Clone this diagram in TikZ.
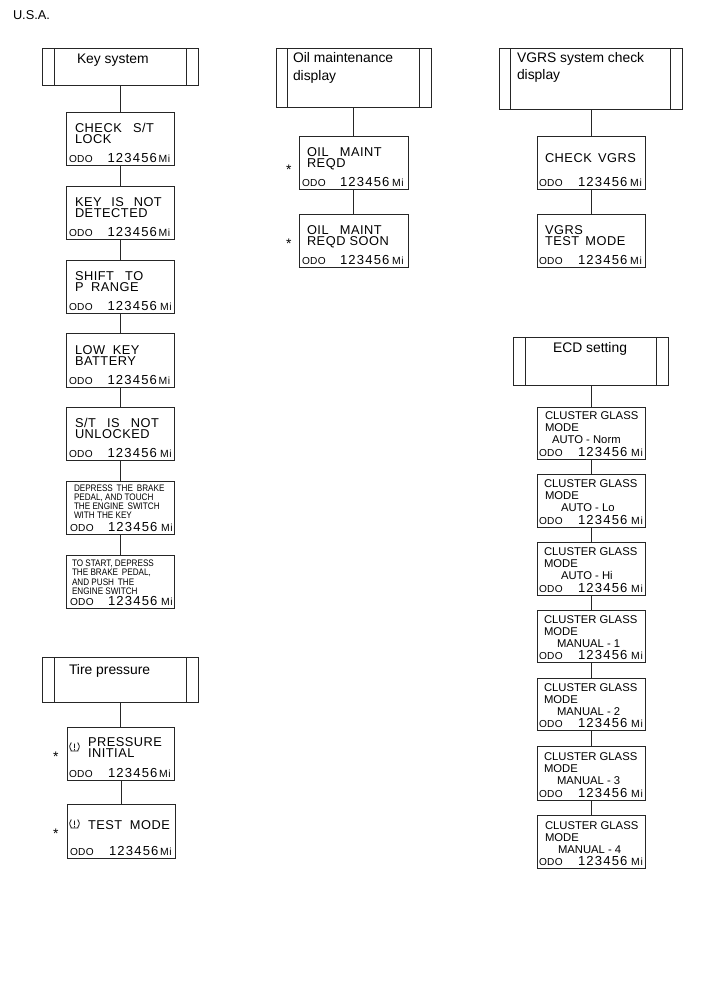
\documentclass[tikz,border=0pt]{standalone}
\usepackage{fontspec}
\setmainfont{Liberation Sans}
\newcommand{\szA}{\fontsize{9.6pt}{11pt}\selectfont\addfontfeature{LetterSpace=4}}
\newcommand{\szB}{\fontsize{7.1pt}{8pt}\selectfont\addfontfeature{FakeStretch=0.86}}
\newcommand{\szC}{\fontsize{8.45pt}{10pt}\selectfont}
\newcommand{\szH}{\fontsize{10.4pt}{12pt}\selectfont}
\tikzset{
  x=0.75pt,y=-0.75pt,
  frame/.style={draw=black!85,line width=0.75pt,inner sep=0pt,outer sep=0pt},
  link/.style={draw=black!85,line width=0.75pt},
  rule/.style={draw=black!85,line width=0.65pt},
  tl/.style={anchor=base west,inner sep=0pt,outer sep=0pt,text=black},
}
% box: name l t r b
\newcommand{\bx}[5]{%
  \pgfmathsetmacro{\cxx}{(#2+#4)/2}\pgfmathsetmacro{\cyy}{(#3+#5)/2}%
  \pgfmathsetmacro{\wxx}{(#4-#2)*0.75}\pgfmathsetmacro{\hxx}{(#5-#3)*0.75}%
  \node[frame,minimum width=\wxx pt,minimum height=\hxx pt] (#1) at (\cxx,\cyy) {};}
% header: name l t r b il ir
\newcommand{\hdr}[7]{\bx{#1}{#2}{#3}{#4}{#5}%
  \draw[rule] (#6,#3) -- (#6,#5) (#7,#3) -- (#7,#5);}
% connector, straight down onto the lower box's centre
\newcommand{\conn}[2]{\draw[link] (#2.north) -- (#2.north |- #1.south);}
% text line: name x y style text
\newcommand{\tx}[5]{\node[tl,font=#4] (#1) at (#2,#3) {#5};}
% odometer: name odoX baseline digitsX miX
\newcommand{\odo}[5]{%
  \node[tl,font=\fontsize{7.6pt}{8pt}\selectfont\addfontfeature{LetterSpace=3}] (#1o) at (#2,#3) {ODO};
  \node[tl,font=\fontsize{9.8pt}{11pt}\selectfont\addfontfeature{LetterSpace=9}] (#1d) at (#4,#3) {123456};
  \node[tl,font=\fontsize{7.8pt}{8pt}\selectfont\addfontfeature{LetterSpace=8}] (#1m) at (#5,#3) {Mi};}
\newcommand{\tire}[2]{%
  \draw[black!90,line width=0.6pt] (#1-3.2,#2+3.5) .. controls (#1-5.8,#2) and (#1-4.8,#2-3) .. (#1-3.2,#2-4.5)
    (#1+3.2,#2+3.5) .. controls (#1+5.8,#2) and (#1+4.8,#2-3) .. (#1+3.2,#2-4.5)
    (#1-3.8,#2+4) -- (#1+3.8,#2+4) (#1,#2-3.5) -- (#1,#2+1) (#1,#2+2) -- (#1,#2+3);}
\begin{document}
\begin{tikzpicture}
\useasboundingbox (0,0) rectangle (713,982);
\tx{usa}{13}{19}{\fontsize{9.6pt}{11pt}\selectfont}{U.S.A.}

% Key system
\hdr{hk}{42}{48}{198}{85}{54}{186}
\tx{hkt}{77}{63}{\szH}{Key system}
\bx{k1}{66}{112}{174}{165}
\tx{k1a}{75}{132}{\szA}{CHECK\;\; S/T}\tx{k1b}{75}{143}{\szA}{LOCK}
\odo{k1}{69}{162}{107.5}{158.5}
\bx{k2}{66}{186}{174}{239}
\tx{k2a}{75}{206}{\szA}{KEY\;\, IS\;\, NOT}\tx{k2b}{75}{217}{\szA}{DETECTED}
\odo{k2}{69}{236}{107.5}{158.5}
\bx{k3}{66}{260}{174}{313}
\tx{k3a}{75}{280}{\szA}{SHIFT\;\; TO}\tx{k3b}{75}{291}{\szA}{P\; RANGE}
\odo{k3}{69}{310}{107.5}{160}
\bx{k4}{66}{333}{174}{387}
\tx{k4a}{75}{354}{\szA}{LOW\; KEY}\tx{k4b}{75}{365}{\szA}{BATTERY}
\odo{k4}{69}{384}{107.5}{158.5}
\bx{k5}{66}{407}{174}{460}
\tx{k5a}{75}{427}{\szA}{S/T\;\; IS\;\; NOT}\tx{k5b}{75}{438}{\szA}{UNLOCKED}
\odo{k5}{69}{457}{107.5}{160}
\bx{k6}{66}{481}{174}{534}
\tx{k6a}{74}{491}{\szB}{DEPRESS\, THE\, BRAKE}\tx{k6b}{74}{500}{\szB}{PEDAL, AND TOUCH}
\tx{k6c}{74}{509.5}{\szB}{THE ENGINE\, SWITCH}\tx{k6d}{74}{518.5}{\szB}{WITH THE KEY}
\odo{k6}{70}{531}{108}{161}
\bx{k7}{66}{555}{174}{608}
\tx{k7a}{72}{566}{\szB}{TO START, DEPRESS}\tx{k7b}{72}{575}{\szB}{THE BRAKE\, PEDAL,}
\tx{k7c}{72}{585}{\szB}{AND PUSH\, THE}\tx{k7d}{72}{594}{\szB}{ENGINE SWITCH}
\odo{k7}{70}{605}{108}{161}
\conn{hk}{k1}\conn{k1}{k2}\conn{k2}{k3}\conn{k3}{k4}\conn{k4}{k5}\conn{k5}{k6}\conn{k6}{k7}

% Tire pressure
\hdr{ht}{42}{657}{198}{702}{54}{186}
\tx{htt}{69}{674}{\szH}{Tire pressure}
\bx{t1}{67}{727}{174}{780}
\tire{74.5}{747}
\tx{t1a}{88}{746}{\szA}{PRESSURE}\tx{t1b}{88}{757}{\szA}{INITIAL}
\odo{t1}{69}{777}{108}{159}
\bx{t2}{67}{804}{175}{858}
\tire{74.5}{824}
\tx{t2a}{88}{829}{\szA}{TEST\; MODE}
\odo{t2}{70}{855}{109}{160}
\conn{ht}{t1}\conn{t1}{t2}
\tx{s1}{53}{761}{\szH}{*}\tx{s2}{53}{838}{\szH}{*}

% Oil
\hdr{ho}{276}{48}{431}{107}{287}{419}
\tx{hot}{293}{62}{\szH}{Oil maintenance}\tx{hou}{293}{80}{\szH}{display}
\bx{o1}{299}{136}{408}{189}
\tx{o1a}{307}{156}{\szA}{OIL\;\; MAINT}\tx{o1b}{307}{167}{\szA}{REQD}
\odo{o1}{302}{186}{340}{392}
\bx{o2}{299}{214}{408}{267}
\tx{o2a}{307}{234}{\szA}{OIL\;\; MAINT}\tx{o2b}{307}{245}{\szA}{REQD SOON}
\odo{o2}{302}{264}{340}{392}
\conn{ho}{o1}\conn{o1}{o2}
\tx{s3}{286}{174}{\szH}{*}\tx{s4}{286}{248}{\szH}{*}

% VGRS
\hdr{hv}{499}{48}{682}{109}{510}{670}
\tx{hvt}{517}{62}{\szH}{VGRS system check}\tx{hvu}{517}{79}{\szH}{display}
\bx{v1}{537}{136}{645}{189}
\tx{v1a}{545}{162}{\szA}{CHECK\, VGRS}
\odo{v1}{539}{186}{578}{630}
\bx{v2}{537}{214}{645}{267}
\tx{v2a}{545}{234}{\szA}{VGRS}\tx{v2b}{545}{245}{\szA}{TEST\, MODE}
\odo{v2}{539}{264}{578}{630}
\conn{hv}{v1}\conn{v1}{v2}

% ECD
\hdr{he}{513}{337}{668}{385}{525}{656}
\tx{het}{553}{352}{\szH}{ECD setting}
\bx{e1}{537}{407}{645}{459}
\tx{e1a}{545}{419}{\szC}{CLUSTER GLASS}\tx{e1b}{545}{431}{\szC}{MODE}\tx{e1c}{552}{443}{\szC}{AUTO - Norm}
\odo{e1}{539}{456}{578}{631}
\bx{e2}{537}{474}{645}{527}
\tx{e2a}{544}{487}{\szC}{CLUSTER GLASS}\tx{e2b}{545}{499}{\szC}{MODE}\tx{e2c}{561}{511}{\szC}{AUTO - Lo}
\odo{e2}{539}{524}{578}{631}
\bx{e3}{537}{542}{645}{595}
\tx{e3a}{544}{555}{\szC}{CLUSTER GLASS}\tx{e3b}{544}{567}{\szC}{MODE}\tx{e3c}{561}{579}{\szC}{AUTO - Hi}
\odo{e3}{539}{592}{578}{631}
\bx{e4}{537}{610}{645}{662}
\tx{e4a}{544}{623}{\szC}{CLUSTER GLASS}\tx{e4b}{544}{635}{\szC}{MODE}\tx{e4c}{557}{647}{\szC}{MANUAL - 1}
\odo{e4}{539}{659}{578}{631}
\bx{e5}{537}{678}{645}{730}
\tx{e5a}{544}{691}{\szC}{CLUSTER GLASS}\tx{e5b}{544}{703}{\szC}{MODE}\tx{e5c}{557}{715}{\szC}{MANUAL - 2}
\odo{e5}{539}{727}{578}{631}
\bx{e6}{537}{746}{645}{800}
\tx{e6a}{544}{760}{\szC}{CLUSTER GLASS}\tx{e6b}{544}{772}{\szC}{MODE}\tx{e6c}{557}{784}{\szC}{MANUAL - 3}
\odo{e6}{539}{797}{578}{631}
\bx{e7}{537}{815}{645}{868}
\tx{e7a}{545}{829}{\szC}{CLUSTER GLASS}\tx{e7b}{545}{841}{\szC}{MODE}\tx{e7c}{558}{853}{\szC}{MANUAL - 4}
\odo{e7}{539}{865}{578}{631}
\conn{he}{e1}\conn{e1}{e2}\conn{e2}{e3}\conn{e3}{e4}\conn{e4}{e5}\conn{e5}{e6}\conn{e6}{e7}
\end{tikzpicture}
\end{document}
